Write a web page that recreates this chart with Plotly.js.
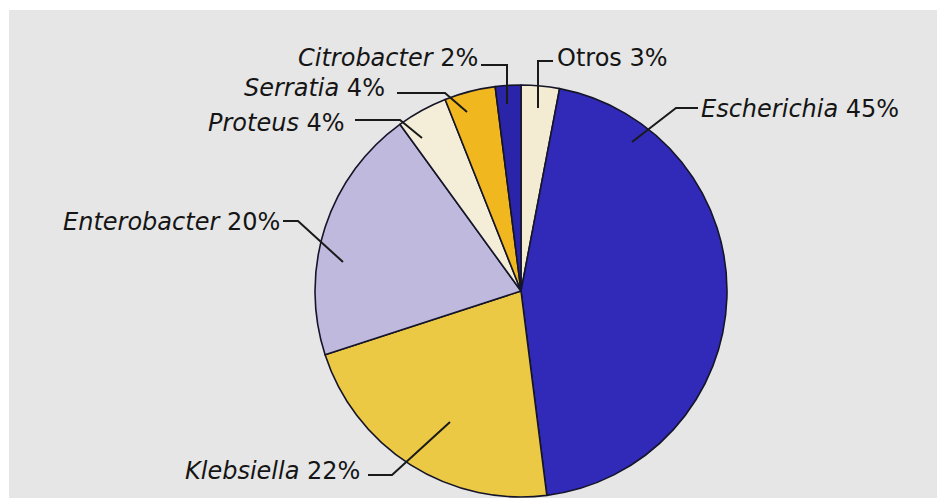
<!DOCTYPE html>
<html>
<head>
<meta charset="utf-8">
<script src="https://cdn.plot.ly/plotly-3.0.1.min.js"></script>
<style>
  html, body { margin: 0; padding: 0; background: #ffffff; }
  #chart { width: 937px; height: 498px; }
</style>
</head>
<body>
<div id="chart"></div>
<script>
// ---- data ----
const categories = ["Otros", "Escherichia", "Klebsiella", "Enterobacter", "Proteus", "Serratia", "Citrobacter"];
const percents   = [3, 45, 22, 20, 4, 4, 2];

// ---- styles ----
const sliceColors = ["#f3ecd3", "#3129b7", "#ebc945", "#bfb9de", "#f4eed8", "#f1b71f", "#2a24a8"];
const uprightNames = ["Otros"];

// label layout (pixels): text anchor and leader-line polyline
const W = 937, H = 498;
const labelLayout = {
  "Otros":        {x: 556, y: 58,  anchor: "left",  line: [[553,61],[538,61],[538,108]]},
  "Escherichia":  {x: 700, y: 109, anchor: "left",  line: [[698,108],[676,108],[632,142]]},
  "Klebsiella":   {x: 361, y: 471, anchor: "right", line: [[368,475],[392,475],[450,422]]},
  "Enterobacter": {x: 281, y: 222, anchor: "right", line: [[283,221],[298,221],[343,262]]},
  "Proteus":      {x: 346, y: 123, anchor: "right", line: [[355,120],[400,120],[422,138]]},
  "Serratia":     {x: 386, y: 88,  anchor: "right", line: [[397,93],[445,93],[467,112]]},
  "Citrobacter":  {x: 479, y: 58,  anchor: "right", line: [[481,65],[507,65],[507,104]]}
};

const px = v => v / W;
const py = v => 1 - v / H;

// pie geometry (pixels)
const cx = 521, cy = 291, r = 206;

const trace = {
  type: "pie",
  labels: categories,
  values: percents,
  sort: false,
  direction: "clockwise",
  rotation: 0,
  textinfo: "none",
  hoverinfo: "label+percent",
  showlegend: false,
  marker: {
    colors: sliceColors,
    line: {color: "#15152a", width: 1.6}
  },
  domain: {
    x: [px(cx - r), px(cx + r)],
    y: [py(cy + r), py(cy - r)]
  }
};

const annotations = categories.map((name, i) => {
  const L = labelLayout[name];
  const nm = uprightNames.includes(name) ? name : "<i>" + name + "</i>";
  return {
    xref: "paper", yref: "paper",
    x: px(L.x), y: py(L.y),
    xanchor: L.anchor, yanchor: "middle",
    showarrow: false,
    borderpad: 0,
    text: nm + " " + percents[i] + "%",
    font: {family: "DejaVu Sans, Liberation Sans, sans-serif", size: 24, color: "#151515"}
  };
});

const shapes = [
  // gray panel
  {type: "rect", xref: "paper", yref: "paper", layer: "below",
   x0: px(9), x1: 1, y0: 0, y1: py(10),
   fillcolor: "#e6e6e6", line: {width: 0}}
];
categories.forEach(name => {
  const pts = labelLayout[name].line;
  const d = pts.map((p, k) => (k ? "L" : "M") + px(p[0]) + "," + py(p[1])).join(" ");
  shapes.push({type: "path", xref: "paper", yref: "paper", layer: "above",
               path: d, line: {color: "#1a1a1a", width: 2}});
});

const layout = {
  width: W, height: H,
  margin: {l: 0, r: 0, t: 0, b: 0, pad: 0},
  paper_bgcolor: "#ffffff",
  plot_bgcolor: "rgba(0,0,0,0)",
  showlegend: false,
  annotations: annotations,
  shapes: shapes
};

Plotly.newPlot("chart", [trace], layout, {displayModeBar: false, staticPlot: true});
</script>
</body>
</html>
